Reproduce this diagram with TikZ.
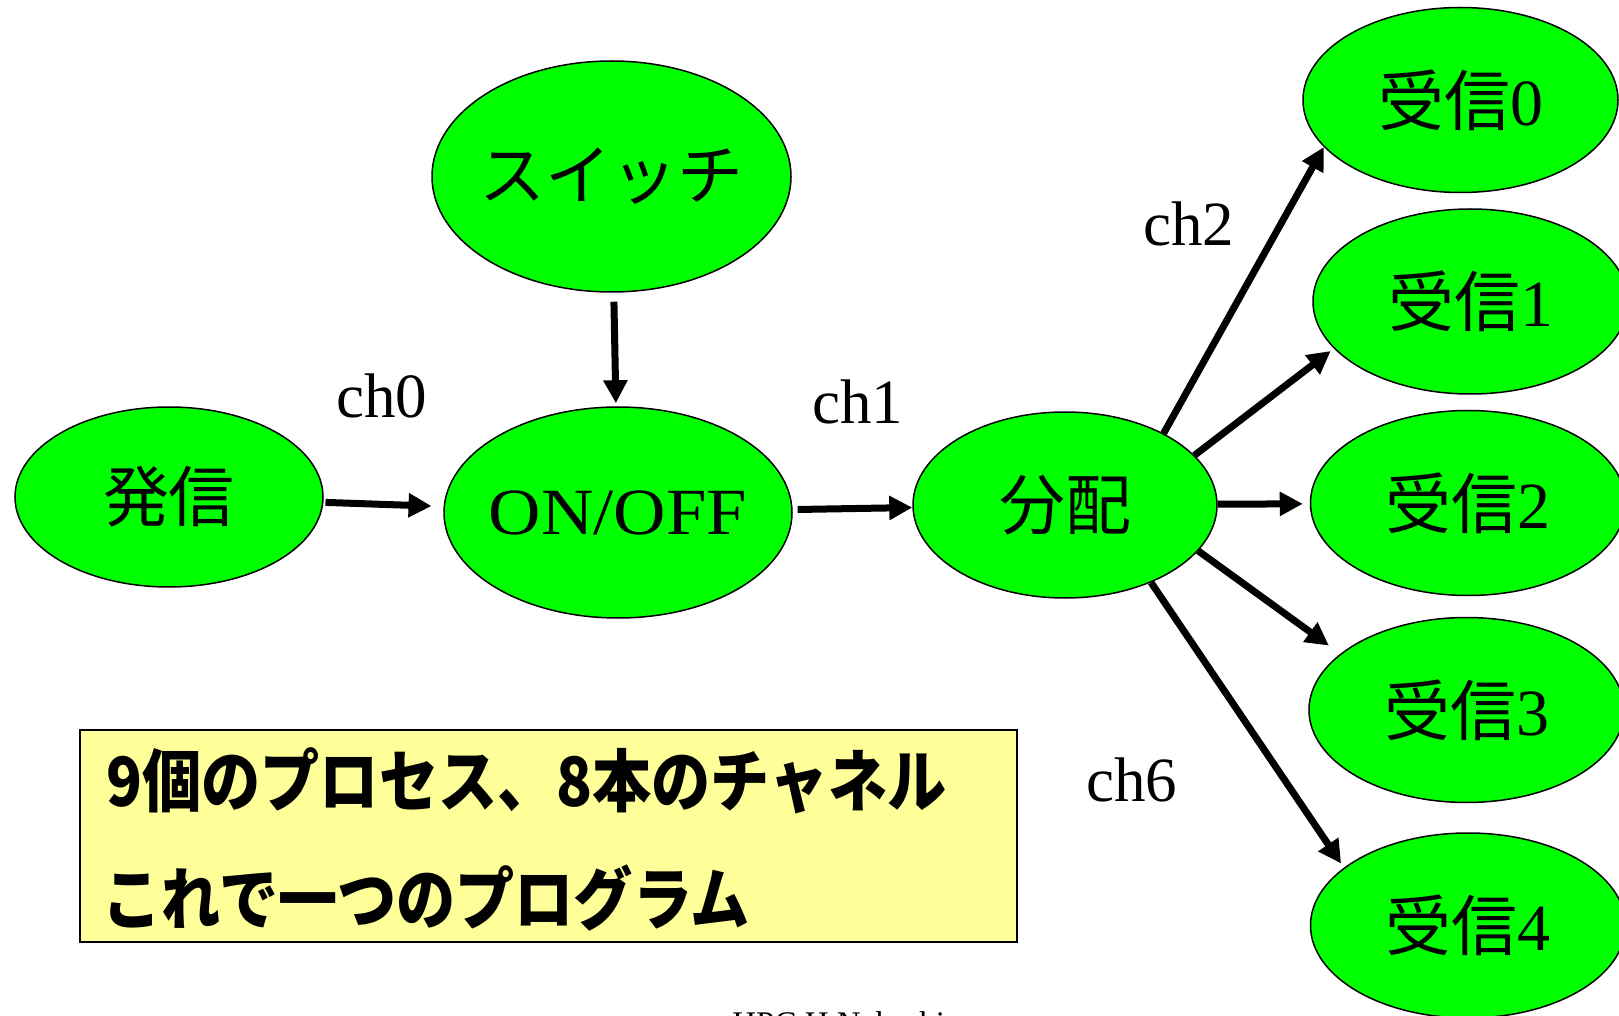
\documentclass[tikz,border=0pt]{standalone}
\usepackage{fontspec}
\setmainfont{Liberation Serif}
\newfontfamily\jpfont{Noto Sans CJK JP}
\usepackage{graphicx}
\usetikzlibrary{shapes,positioning,arrows.meta}

\definecolor{procgreen}{RGB}{0,255,0}
\definecolor{noteyellow}{RGB}{255,255,153}

% text of a process, kept out of the ellipse size
\newcommand{\ptext}[1]{\makebox[0pt][c]{#1}}

\tikzset{
  proc/.style={ellipse, draw, line width=0.75pt, fill=procgreen, inner sep=0pt, font=\fontsize{33}{40}\selectfont},
  recv/.style={proc, minimum width=157.5pt, minimum height=92.5pt},
  chlabel/.style={anchor=base west, inner sep=0pt, font=\fontsize{31.5}{38}\selectfont},
  noteline/.style={anchor=west, inner sep=0pt, font=\fontsize{34}{40}\selectfont},
  arr/.style={line width=3.5pt, -{Triangle[length=11.5pt,width=11.5pt]}},
}

\begin{document}
\begin{tikzpicture}[x=0.5pt,y=0.5pt,yscale=-1]
\useasboundingbox (0,0) rectangle (1619,1016);

%Shape: Ellipse (processes)
\node[proc, minimum width=154pt, minimum height=90pt] (snd) at (169,497) {\ptext{\jpfont 発信}};
\node[proc, minimum width=179.5pt, minimum height=115.5pt] (sw) at (611.5,176.5) {\ptext{\jpfont スイッチ}};
\node[proc, minimum width=174pt, minimum height=105.5pt] (onoff) at (618,512.5) {\ptext{\scalebox{1.1}[1]{ON/OFF}}};
\node[proc, minimum width=152pt, minimum height=93pt] (div) at (1065,505) {\ptext{\jpfont 分配}};
\node[recv] (r0) at (1460.5,100) {\ptext{{\jpfont 受信}0}};
\node[recv] (r1) at (1470.5,301.5) {\ptext{{\jpfont 受信}1}};
\node[recv] (r2) at (1468,503) {\ptext{{\jpfont 受信}2}};
\node[recv] (r3) at (1466.5,710) {\ptext{{\jpfont 受信}3}};
\node[recv] (r4) at (1468,925.5) {\ptext{{\jpfont 受信}4}};

%Straight Lines (channels)
\draw[arr, shorten <=1pt, shorten >=6pt] (snd) -- (onoff);
\draw[arr, shorten <=4.5pt, shorten >=1.5pt] (sw) -- (onoff);
\draw[arr, shorten <=2.5pt] (onoff) -- (div);
\draw[arr] (div.36) -- (r0.199);
\draw[arr, shorten >=2pt] (div.21) -- (r1.199);
\draw[arr, shorten >=3.5pt] (div) -- (r2);
\draw[arr, shorten >=7pt] (div.-19) -- (r3.156);
\draw[arr, shorten >=2.5pt] (div.-42) -- (r4.155);

% Text Node
\node[chlabel] (lab0) at (336,418) {ch0};
\node[chlabel] (lab1) at (812,423) {ch1};
\node[chlabel] (lab2) at (1143,246) {ch2};
\node[chlabel] (lab6) at (1086,801) {ch6};

%Shape: Rectangle (note)
\node[draw, line width=1pt, fill=noteyellow, minimum width=468.5pt, minimum height=106pt, inner sep=0pt] (note) at (548.5,836) {};
\node[noteline] (note1) at (106,781) {\scalebox{0.87}[1]{\jpfont\bfseries 9個のプロセス、8本のチャネル}};
\node[noteline] (note2) at (102,898) {\scalebox{0.87}[1]{\jpfont\bfseries これで一つのプログラム}};

% Text Node
\node[anchor=base west, inner sep=0pt, font=\fontsize{16.5}{20}\selectfont] (foot) at (732,1034) {HPC H.Nakashima};

\end{tikzpicture}
\end{document}
